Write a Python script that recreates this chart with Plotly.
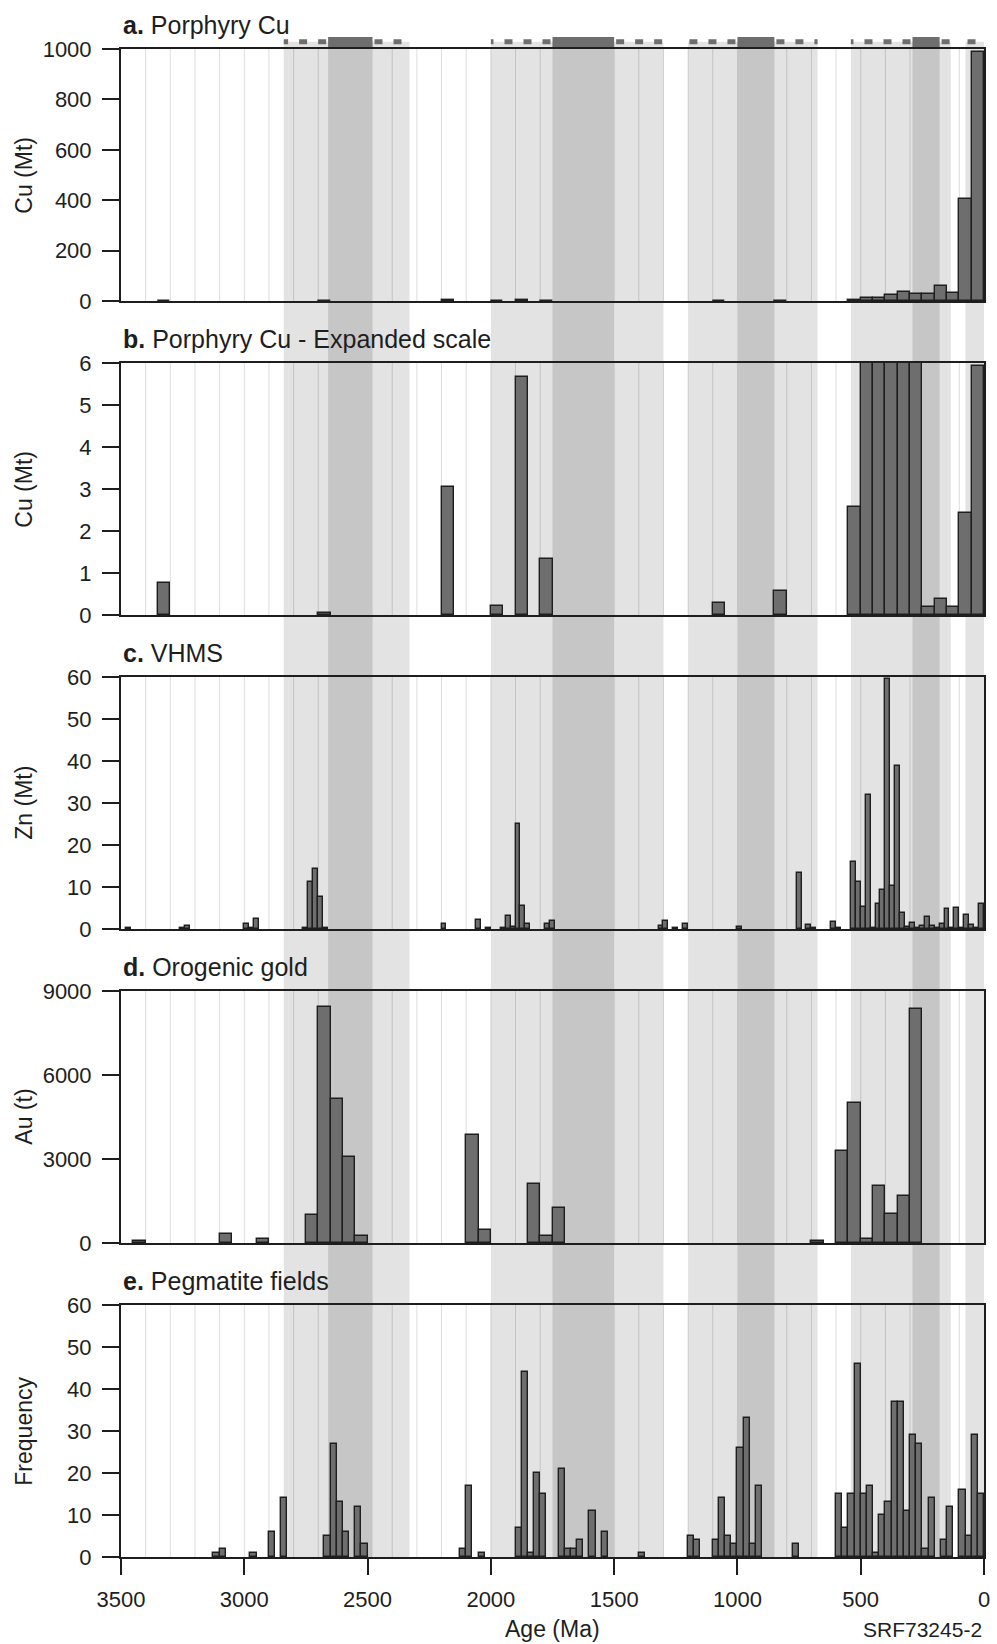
import plotly.graph_objects as go

# ---------------- DATA ----------------
# Supercontinent-cycle shading (Ma)
band_light_start = [2840, 2000, 1200, 540, 75]
band_light_end = [2330, 1300, 675, 135, 0]
band_dark_start = [2660, 1750, 1000, 290]
band_dark_end = [2480, 1500, 850, 180]

# a. Porphyry Cu (Mt) - 50 Ma bins (bin centres, Ma)
cu_bin = 50
cu_age = [3325, 2675, 2175, 1975, 1875, 1775, 1075, 825, 525, 475, 425, 375,
          325, 275, 225, 175, 125, 75, 25]
cu_mt = [0.77, 0.05, 3.04, 0.22, 5.66, 1.33, 0.29, 0.58, 2.56, 10.6, 13.2, 22.5,
         35.8, 27.8, 27.8, 61, 30.5, 404, 987]
# b. Porphyry Cu - expanded scale (Mt)
cu_exp_mt = [0.77, 0.05, 3.04, 0.22, 5.66, 1.33, 0.29, 0.58, 2.56, 10.6, 13.2, 22.5,
             35.8, 27.8, 0.18, 0.37, 0.18, 2.42, 5.92]

# c. VHMS Zn (Mt) - 20 Ma bins
zn_bin = 20
zn_age = [3470, 3250, 3230, 2990, 2970, 2950, 2750, 2730, 2710, 2690, 2670,
          2190, 2050, 2010, 1950, 1930, 1910, 1890, 1870, 1850, 1770, 1750,
          1310, 1290, 1250, 1210, 990, 750, 710, 690, 610, 590,
          530, 510, 490, 470, 450, 430, 410, 390, 370, 350, 330, 310, 290,
          270, 250, 230, 210, 190, 170, 150, 130, 110, 90, 70, 50, 30, 10]
zn_mt = [0.3, 0.3, 0.8, 1.2, 0.2, 2.5, 0.2, 11.1, 14.4, 7.7, 0.3,
         1.2, 2.1, 0.3, 0.3, 3.1, 0.5, 25.1, 5.5, 1.3, 1.1, 1.9,
         0.8, 1.9, 0.2, 1.2, 0.5, 13.4, 1.0, 0.2, 1.6, 0.3,
         16.0, 11.3, 5.2, 31.8, 0.3, 6.0, 9.3, 59.6, 10.3, 38.7, 3.7, 0.5, 1.5,
         0.2, 0.6, 2.9, 0.8, 0.2, 1.3, 4.7, 0.2, 4.9, 0.3, 3.3, 1.0, 0.3, 6.0]

# d. Orogenic gold Au (t) - 50 Ma bins
au_bin = 50
au_age = [3425, 3075, 2925, 2725, 2675, 2625, 2575, 2525, 2075, 2025, 1825,
          1775, 1725, 675, 575, 525, 475, 425, 375, 325, 275]
au_t = [60, 330, 130, 1000, 8430, 5140, 3060, 250, 3840, 460, 2120,
        250, 1240, 80, 3270, 5000, 140, 2050, 1030, 1665, 8360]

# e. Pegmatite fields (frequency) - 25 Ma bins
peg_bin = 25
peg_age = [3112.5, 3087.5, 2962.5, 2887.5, 2837.5, 2662.5, 2637.5, 2612.5, 2587.5,
           2537.5, 2512.5, 2112.5, 2087.5, 2037.5, 1887.5, 1862.5, 1837.5, 1812.5,
           1787.5, 1712.5, 1687.5, 1662.5, 1637.5, 1587.5, 1537.5, 1387.5, 1187.5,
           1162.5, 1087.5, 1062.5, 1037.5, 1012.5, 987.5, 962.5, 937.5, 912.5,
           762.5, 587.5, 562.5, 537.5, 512.5, 487.5, 462.5, 437.5, 412.5, 387.5,
           362.5, 337.5, 312.5, 287.5, 262.5, 237.5, 212.5, 162.5, 137.5, 87.5,
           62.5, 37.5, 12.5]
peg_freq = [1, 2, 1, 6, 14, 5, 27, 13, 6,
            12, 3, 2, 17, 1, 7, 44, 1, 20,
            15, 21, 2, 2, 4, 11, 6, 1, 5,
            4, 4, 14, 5, 3, 26, 33, 3, 17,
            3, 15, 7, 15, 46, 15, 17, 1, 10, 13,
            37, 37, 11, 29, 27, 2, 14, 4, 12, 16,
            5, 29, 15]

panel_titles = ["<b>a.</b> Porphyry Cu", "<b>b.</b> Porphyry Cu - Expanded scale",
                "<b>c.</b> VHMS", "<b>d.</b> Orogenic gold", "<b>e.</b> Pegmatite fields"]
y_titles = ["Cu (Mt)", "Cu (Mt)", "Zn (Mt)", "Au (t)", "Frequency"]
y_ranges = [[0, 1000], [0, 6], [0, 60], [0, 9000], [0, 60]]
y_ticks = [[0, 200, 400, 600, 800, 1000], [0, 1, 2, 3, 4, 5, 6],
           [0, 10, 20, 30, 40, 50, 60], [0, 3000, 6000, 9000],
           [0, 10, 20, 30, 40, 50, 60]]
x_ticks = [3500, 3000, 2500, 2000, 1500, 1000, 500, 0]
x_grid_step = 100

# ---------------- GEOMETRY / STYLE ----------------
W, H = 997, 1644
ML, MR, MT, MB = 121, 7, 49, 87
PW = W - ML - MR
PH = H - MT - MB
BOTTOM_PX = H - MB
panel_tops = [49, 363, 677, 991, 1305]
panel_h = 252


def py(px):
    return (BOTTOM_PX - px) / PH


def px_x(px):
    return (px - ML) / PW


INK = "#1e1e1e"
BAR = "#6e6e6e"
LIGHT = "#e3e3e3"
DARK = "#c6c6c6"
GRID = "rgba(0,0,0,0.14)"
FONT = "Liberation Sans, Arial, Helvetica, sans-serif"
NARROW = "Liberation Sans Narrow, Arial Narrow, Liberation Sans, Arial, sans-serif"

series = [
    (cu_age, cu_mt, cu_bin),
    (cu_age, cu_exp_mt, cu_bin),
    (zn_age, zn_mt, zn_bin),
    (au_age, au_t, au_bin),
    (peg_age, peg_freq, peg_bin),
]

fig = go.Figure()
for i, (ages, vals, bw) in enumerate(series):
    sfx = "" if i == 0 else str(i + 1)
    fig.add_trace(go.Bar(
        x=ages, y=vals, width=[bw] * len(ages),
        marker=dict(color=BAR, line=dict(color=INK, width=1.4)),
        xaxis="x" + sfx, yaxis="y" + sfx, showlegend=False,
        hoverinfo="x+y",
    ))

layout = dict(
    width=W, height=H,
    margin=dict(l=ML, r=MR, t=MT, b=MB),
    paper_bgcolor="white", plot_bgcolor="rgba(0,0,0,0)",
    bargap=0, showlegend=False,
    font=dict(family=FONT, color=INK),
)

for i in range(5):
    sfx = "" if i == 0 else str(i + 1)
    top = panel_tops[i]
    dom = [py(top + panel_h), py(top)]
    last = (i == 4)
    layout["xaxis" + sfx] = dict(
        domain=[0, 1], range=[3500, 0], anchor="y" + sfx,
        tickmode="array", tickvals=x_ticks,
        showticklabels=last, ticks="outside" if last else "",
        ticklen=16, tickwidth=2, tickcolor=INK,
        ticklabelstandoff=6,
        tickfont=dict(family=NARROW, size=22, color=INK),
        showline=True, mirror=True, linecolor=INK, linewidth=2,
        showgrid=False, zeroline=False, fixedrange=True,
    )
    if i > 0:
        layout["xaxis" + sfx]["matches"] = "x"
    layout["yaxis" + sfx] = dict(
        domain=dom, range=y_ranges[i], anchor="x" + sfx,
        tickmode="array", tickvals=y_ticks[i],
        ticks="outside", ticklen=17, tickwidth=2, tickcolor=INK,
        ticklabelstandoff=6,
        tickfont=dict(family=NARROW, size=22, color=INK),
        showline=True, mirror=True, linecolor=INK, linewidth=2,
        showgrid=False, zeroline=False, fixedrange=True,
    )

fig.update_layout(**layout)

# ---------------- SHAPES: bands + grid ----------------
band_top = py(41.7)
shapes = []
# light bands (assembly / breakup)
for a, b in zip(band_light_start, band_light_end):
    shapes.append(dict(type="rect", xref="x", yref="paper", x0=a, x1=b,
                       y0=0, y1=band_top, fillcolor=LIGHT, line=dict(width=0),
                       layer="below"))
# vertical 100 Ma grid inside each panel
for i in range(5):
    top = panel_tops[i]
    for g in range(x_grid_step, 3500, x_grid_step):
        shapes.append(dict(type="line", xref="x", yref="paper", x0=g, x1=g,
                           y0=py(top + panel_h), y1=py(top),
                           line=dict(color=GRID, width=1), layer="below"))
# dark bands (tenure) hide the grid
for a, b in zip(band_dark_start, band_dark_end):
    shapes.append(dict(type="rect", xref="x", yref="paper", x0=a, x1=b,
                       y0=0, y1=band_top, fillcolor=DARK, line=dict(width=0),
                       layer="below"))

# dashed bar (assembly / breakup) and solid bar (tenure) above panel a
dash_y = py(41.7)
solid_y = py(42)
dash_style = "0px,2px,8px,9px"
for k in range(len(band_light_start)):
    if k < len(band_dark_start):
        segs = [(band_dark_start[k], band_light_start[k]),
                (band_dark_end[k], band_light_end[k])]
        shapes.append(dict(type="line", xref="x", yref="paper",
                           x0=band_dark_start[k], x1=band_dark_end[k],
                           y0=solid_y, y1=solid_y,
                           line=dict(color=BAR, width=10), layer="above"))
    else:
        segs = [(band_light_start[k], band_light_end[k])]
    for s0, s1 in segs:
        shapes.append(dict(type="line", xref="x", yref="paper",
                           x0=s0, x1=s1, y0=dash_y, y1=dash_y,
                           line=dict(color=BAR, width=5, dash=dash_style),
                           layer="above"))
fig.update_layout(shapes=shapes)

# ---------------- ANNOTATIONS ----------------
ann = []
for i in range(5):
    top = panel_tops[i]
    ann.append(dict(text=panel_titles[i], xref="paper", yref="paper",
                    x=0, y=py(top - 24), xanchor="left", yanchor="middle",
                    showarrow=False, font=dict(family=FONT, size=25, color=INK)))
    ann.append(dict(text=y_titles[i], xref="paper", yref="paper",
                    x=px_x(23), y=py(top + panel_h / 2), xanchor="center",
                    yanchor="middle", textangle=-90, showarrow=False,
                    font=dict(family=FONT, size=23, color=INK)))
ann.append(dict(text="Age (Ma)", xref="paper", yref="paper", x=0.5, y=py(1629),
                xanchor="center", yanchor="middle", showarrow=False,
                font=dict(family=FONT, size=23, color=INK)))
ann.append(dict(text="SRF73245-2", xref="paper", yref="paper", x=1, y=py(1630),
                xanchor="right", yanchor="middle", showarrow=False,
                font=dict(family=NARROW, size=21, color=INK)))
fig.update_layout(annotations=ann)

fig.write_html(
    "out.html",
    config={"displayModeBar": False},
    post_script="document.body.style.margin='0px';"
                "document.body.style.padding='0px';"
                "document.body.style.overflow='hidden';"
                "document.documentElement.style.overflow='hidden';",
)
